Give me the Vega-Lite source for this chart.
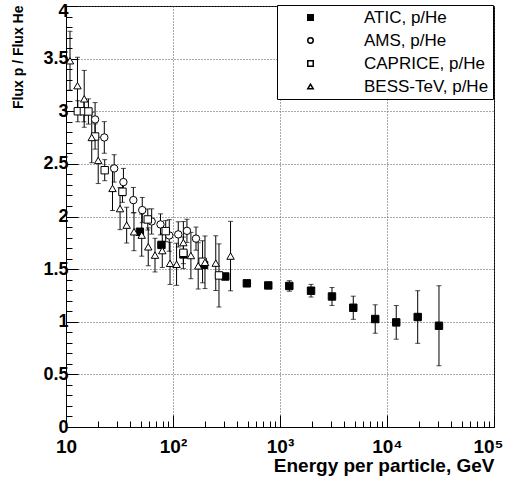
{
  "$schema": "https://vega.github.io/schema/vega-lite/v6.json",
  "width": 428,
  "height": 421,
  "autosize": {"type": "none"},
  "padding": {"left": 66, "top": 6, "right": 13, "bottom": 53},
  "background": "white",
  "data": {
    "values": [
      {"s": "ATIC, p/He", "E": 49, "v": 1.855, "e": 0.03},
      {"s": "ATIC, p/He", "E": 78, "v": 1.73, "e": 0.03},
      {"s": "ATIC, p/He", "E": 125, "v": 1.64, "e": 0.03},
      {"s": "ATIC, p/He", "E": 195, "v": 1.54, "e": 0.03},
      {"s": "ATIC, p/He", "E": 308, "v": 1.43, "e": 0.03},
      {"s": "ATIC, p/He", "E": 490, "v": 1.365, "e": 0.02},
      {"s": "ATIC, p/He", "E": 777, "v": 1.345, "e": 0.02},
      {"s": "ATIC, p/He", "E": 1222, "v": 1.34, "e": 0.05},
      {"s": "ATIC, p/He", "E": 1950, "v": 1.295, "e": 0.06},
      {"s": "ATIC, p/He", "E": 3060, "v": 1.24, "e": 0.085},
      {"s": "ATIC, p/He", "E": 4840, "v": 1.133, "e": 0.11},
      {"s": "ATIC, p/He", "E": 7760, "v": 1.026, "e": 0.135},
      {"s": "ATIC, p/He", "E": 12200, "v": 0.994, "e": 0.16},
      {"s": "ATIC, p/He", "E": 19360, "v": 1.045, "e": 0.25},
      {"s": "ATIC, p/He", "E": 30600, "v": 0.962, "e": 0.38},
      {"s": "AMS, p/He", "E": 18.7, "v": 2.922, "e": 0.16},
      {"s": "AMS, p/He", "E": 22.8, "v": 2.751, "e": 0.15},
      {"s": "AMS, p/He", "E": 28.2, "v": 2.457, "e": 0.13},
      {"s": "AMS, p/He", "E": 34.4, "v": 2.327, "e": 0.13},
      {"s": "AMS, p/He", "E": 42.6, "v": 2.156, "e": 0.12},
      {"s": "AMS, p/He", "E": 51.6, "v": 2.061, "e": 0.12},
      {"s": "AMS, p/He", "E": 63.2, "v": 1.953, "e": 0.12},
      {"s": "AMS, p/He", "E": 76.4, "v": 1.925, "e": 0.1},
      {"s": "AMS, p/He", "E": 92.3, "v": 1.82, "e": 0.15},
      {"s": "AMS, p/He", "E": 112, "v": 1.83, "e": 0.12},
      {"s": "AMS, p/He", "E": 135, "v": 1.864, "e": 0.11},
      {"s": "AMS, p/He", "E": 164, "v": 1.79, "e": 0.11},
      {"s": "CAPRICE, p/He", "E": 12.9, "v": 3.0, "e": 0.1},
      {"s": "CAPRICE, p/He", "E": 14.7, "v": 3.0, "e": 0.1},
      {"s": "CAPRICE, p/He", "E": 16.2, "v": 2.998, "e": 0.12},
      {"s": "CAPRICE, p/He", "E": 18.7, "v": 2.76, "e": 0.12},
      {"s": "CAPRICE, p/He", "E": 23.0, "v": 2.44, "e": 0.1},
      {"s": "CAPRICE, p/He", "E": 33.7, "v": 2.235, "e": 0.1},
      {"s": "CAPRICE, p/He", "E": 58.1, "v": 1.972, "e": 0.1},
      {"s": "CAPRICE, p/He", "E": 85.5, "v": 1.861, "e": 0.1},
      {"s": "CAPRICE, p/He", "E": 125, "v": 1.655, "e": 0.15},
      {"s": "CAPRICE, p/He", "E": 189, "v": 1.57, "e": 0.2},
      {"s": "CAPRICE, p/He", "E": 269, "v": 1.44, "e": 0.3},
      {"s": "BESS-TeV, p/He", "E": 10.9, "v": 3.48, "e": 0.28},
      {"s": "BESS-TeV, p/He", "E": 12.8, "v": 3.243, "e": 0.27},
      {"s": "BESS-TeV, p/He", "E": 14.8, "v": 3.118, "e": 0.27},
      {"s": "BESS-TeV, p/He", "E": 17.4, "v": 2.751, "e": 0.24},
      {"s": "BESS-TeV, p/He", "E": 20.0, "v": 2.533, "e": 0.22},
      {"s": "BESS-TeV, p/He", "E": 27.2, "v": 2.267, "e": 0.21},
      {"s": "BESS-TeV, p/He", "E": 32.0, "v": 2.075, "e": 0.2},
      {"s": "BESS-TeV, p/He", "E": 36.9, "v": 1.918, "e": 0.17},
      {"s": "BESS-TeV, p/He", "E": 43.2, "v": 1.855, "e": 0.18},
      {"s": "BESS-TeV, p/He", "E": 51.0, "v": 1.823, "e": 0.2},
      {"s": "BESS-TeV, p/He", "E": 58.7, "v": 1.712, "e": 0.18},
      {"s": "BESS-TeV, p/He", "E": 67.9, "v": 1.633, "e": 0.16},
      {"s": "BESS-TeV, p/He", "E": 79.4, "v": 1.676, "e": 0.16},
      {"s": "BESS-TeV, p/He", "E": 93.8, "v": 1.555, "e": 0.2},
      {"s": "BESS-TeV, p/He", "E": 108, "v": 1.546, "e": 0.2},
      {"s": "BESS-TeV, p/He", "E": 125, "v": 1.752, "e": 0.2},
      {"s": "BESS-TeV, p/He", "E": 147, "v": 1.629, "e": 0.22},
      {"s": "BESS-TeV, p/He", "E": 172, "v": 1.531, "e": 0.22},
      {"s": "BESS-TeV, p/He", "E": 199, "v": 1.565, "e": 0.25},
      {"s": "BESS-TeV, p/He", "E": 251, "v": 1.557, "e": 0.26},
      {"s": "BESS-TeV, p/He", "E": 345, "v": 1.624, "e": 0.33}
    ]
  },
  "layer": [
    {
      "mark": {"type": "errorbar", "color": "black", "thickness": 1, "ticks": {"size": 5, "thickness": 1, "color": "black"}},
      "encoding": {
        "x": {"field": "E", "type": "quantitative",
              "scale": {"type": "log", "domain": [10, 100000], "nice": false},
              "axis": {"orient": "bottom", "values": [20,30,40,50,60,70,80,90,200,300,400,500,600,700,800,900,2000,3000,4000,5000,6000,7000,8000,9000,20000,30000,40000,50000,60000,70000,80000,90000],
                       "labels": false, "grid": false, "domain": false, "tickSize": -6, "title": null}},
        "y": {"field": "v", "type": "quantitative",
              "scale": {"domain": [0, 4], "nice": false, "zero": false},
              "axis": {"orient": "left", "values": [0.1,0.2,0.3,0.4,0.6,0.7,0.8,0.9,1.1,1.2,1.3,1.4,1.6,1.7,1.8,1.9,2.1,2.2,2.3,2.4,2.6,2.7,2.8,2.9,3.1,3.2,3.3,3.4,3.6,3.7,3.8,3.9],
                       "labels": false, "grid": false, "domain": false, "tickSize": -6, "title": null}},
        "yError": {"field": "e"}
      }
    },
    {
      "mark": {"type": "point", "filled": true, "stroke": "black", "strokeWidth": 1, "opacity": 1, "size": 55},
      "encoding": {
        "x": {"field": "E", "type": "quantitative",
              "axis": {"orient": "bottom", "values": [10, 100, 1000, 10000, 100000],
                       "labelExpr": "datum.value == 10 ? '10' : datum.value == 100 ? '10²' : datum.value == 1000 ? '10³' : datum.value == 10000 ? '10⁴' : '10⁵'",
                       "labelFont": "Liberation Sans", "labelFontWeight": "bold", "labelFontSize": 19, "labelPadding": 22,
                       "labelFlush": false, "labelOverlap": false,
                       "labelOffset": {"condition": {"test": "datum.value == 100000", "value": -6}, "value": 0},
                       "tickSize": -12, "grid": true, "gridDash": [1, 2], "gridColor": "#555", "gridOpacity": 1,
                       "title": "Energy per particle, GeV", "titleFont": "Liberation Sans", "titleFontWeight": "bold", "titleFontSize": 19,
                       "titleAnchor": "end", "titlePadding": 0}},
        "y": {"field": "v", "type": "quantitative",
              "axis": {"orient": "left", "values": [0, 0.5, 1, 1.5, 2, 2.5, 3, 3.5, 4], "format": "~g",
                       "labelFont": "Liberation Sans", "labelFontWeight": "bold", "labelFontSize": 18, "labelPadding": 10,
                       "labelFlush": false, "labelOverlap": false,
                       "labelOffset": {"condition": {"test": "datum.value == 4", "value": 5}, "value": 0},
                       "tickSize": -12, "grid": true, "gridDash": [1, 2], "gridColor": "#555", "gridOpacity": 1,
                       "title": "Flux p / Flux He", "titleFont": "Liberation Sans", "titleFontWeight": "bold", "titleFontSize": 14,
                       "titleAnchor": "end", "titleX": -41, "titleY": -1}},
        "shape": {"field": "s", "type": "nominal",
                  "scale": {"domain": ["ATIC, p/He", "AMS, p/He", "CAPRICE, p/He", "BESS-TeV, p/He"], "range": ["square", "circle", "square", "triangle-up"]},
                  "legend": {
                    "orient": "none", "legendX": 211, "legendY": -1, "title": null,
                    "fillColor": "white", "strokeColor": "black", "padding": 4,
                    "labelFont": "Liberation Sans", "labelFontSize": 17, "labelColor": "black",
                    "labelExpr": "'\u00a0\u00a0\u00a0\u00a0' + datum.label + '\u00a0\u00a0'",
                    "symbolSize": 30, "symbolOffset": 21, "labelOffset": 45, "rowPadding": 5,
                    "encode": {"symbols": {"update": {"stroke": {"value": "black"}, "strokeWidth": {"value": 1}}}}
                  }},
        "fill": {"field": "s", "type": "nominal",
                 "scale": {"domain": ["ATIC, p/He", "AMS, p/He", "CAPRICE, p/He", "BESS-TeV, p/He"], "range": ["black", "white", "white", "white"]}}
      }
    }
  ],
  "resolve": {"axis": {"x": "independent", "y": "independent"}},
  "config": {
    "font": "Liberation Sans",
    "view": {"stroke": "black", "strokeWidth": 1},
    "axis": {"domainColor": "black", "tickColor": "black", "labelColor": "black", "titleColor": "black"}
  }
}
